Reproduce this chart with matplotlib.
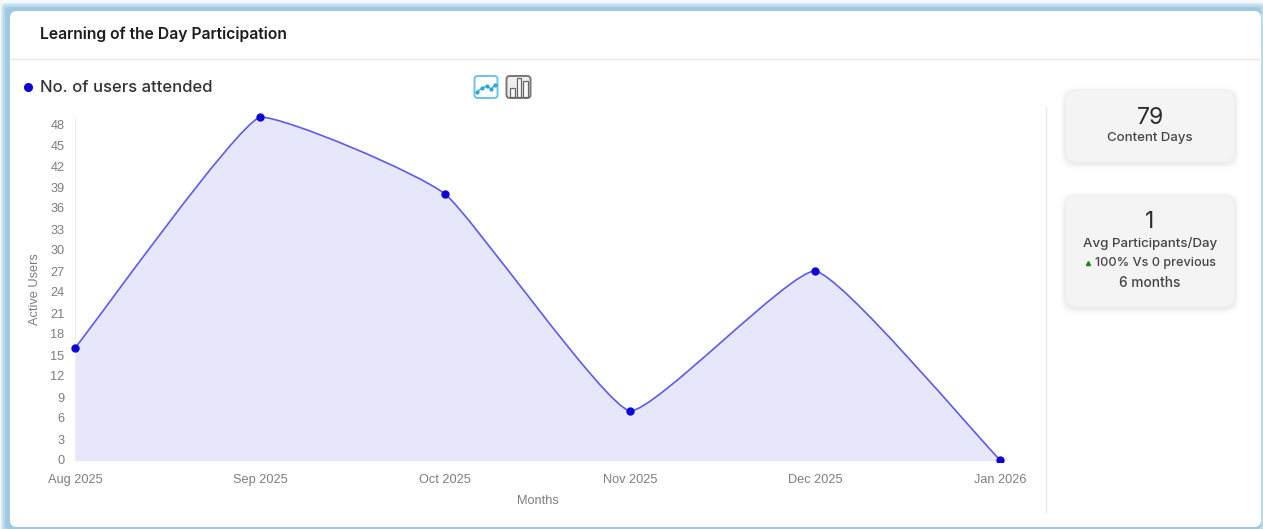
# Learning of the Day Participation card

import matplotlib
matplotlib.use("Agg")
import matplotlib.pyplot as plt
from matplotlib.patches import FancyBboxPatch, Rectangle
from matplotlib.path import Path
from matplotlib.patches import PathPatch

months = ["Aug 2025", "Sep 2025", "Oct 2025", "Nov 2025", "Dec 2025", "Jan 2026"]
users = [16, 49, 38, 7, 27, 0]
y_ticks = list(range(0, 49, 3))

LINE = "#5f5aea"
DOT = "#0c05d6"
FILL = "#e7e7fb"
UI_FONT = ["Inter", "DejaVu Sans"]
TICK_FONT = ["Liberation Sans", "DejaVu Sans"]
TICK_COL = "#7d7d7d"


def smooth_path(xs, ys, smoothing=0.14):
    """Bezier spline through the points, control points kept in the y range of each segment."""
    n = len(xs)
    verts = [(xs[0], ys[0])]
    codes = [Path.MOVETO]
    slopes = []
    for i in range(n):
        a = max(i - 1, 0)
        b = min(i + 1, n - 1)
        slopes.append((ys[b] - ys[a]) / (xs[b] - xs[a]))
    for i in range(n - 1):
        dx = xs[i + 1] - xs[i]
        c0 = ys[i] + slopes[i] * dx * smoothing
        c1 = ys[i + 1] - slopes[i + 1] * dx * smoothing
        lo, hi = min(ys[i], ys[i + 1]), max(ys[i], ys[i + 1])
        c0 = min(max(c0, lo), hi)
        c1 = min(max(c1, lo), hi)
        verts += [(xs[i] + dx * smoothing, c0), (xs[i + 1] - dx * smoothing, c1), (xs[i + 1], ys[i + 1])]
        codes += [Path.CURVE4] * 3
    return verts, codes


def card(bg, x0, y0, x1, y1):
    # soft shadow first
    for grow, alpha in [(5, 0.012), (3.5, 0.015), (2, 0.02), (1, 0.025)]:
        bg.add_patch(FancyBboxPatch((x0 - grow, y0 - grow + 2), x1 - x0 + 2 * grow, y1 - y0 + 2 * grow,
                                    boxstyle="round,pad=0,rounding_size=14", fc="black", ec="none", alpha=alpha))
    bg.add_patch(FancyBboxPatch((x0, y0), x1 - x0, y1 - y0, boxstyle="round,pad=0,rounding_size=12",
                                fc="#f4f4f4", ec="#eeeeee", lw=0.8))


fig = plt.figure(figsize=(12.63, 5.29), dpi=100)
bg = fig.add_axes([0, 0, 1, 1])
bg.set_xlim(0, 1263)
bg.set_ylim(529, 0)
bg.axis("off")

# blue frame round the white panel
bg.add_patch(Rectangle((0, 0), 1263, 529, fc="#f4f8fb", ec="none"))
for grow, col in [(4, "#dcebf4"), (2.5, "#bcd9ea"), (0, "#9fc9e2")]:
    bg.add_patch(FancyBboxPatch((4 - grow + 1, 5 - grow + 2), 1258 + 2 * grow - 2, 524 + 2 * grow - 2,
                                boxstyle="round,pad=0,rounding_size=4", fc=col, ec="none"))
bg.add_patch(FancyBboxPatch((10, 11), 1251, 516, boxstyle="round,pad=0,rounding_size=7", fc="white", ec="none"))

bg.plot([10, 1261], [59, 59], color="#e6e6e6", lw=1)
bg.plot([1046, 1046], [107, 512], color="#e8e8e8", lw=1)

bg.text(39.5, 34, "Learning of the Day Participation", fontsize=11.3, fontweight="semibold",
        family=UI_FONT, color="#1c1c1c", va="center")
bg.plot([28], [87], "o", ms=5.5, color=DOT)
bg.text(40.5, 87.5, "No. of users attended", fontsize=12, fontweight="medium",
        family=UI_FONT, color="#333333", va="center")

# line / bar toggle icons
bg.add_patch(FancyBboxPatch((474.5, 76), 23, 22, boxstyle="round,pad=0,rounding_size=3", fc="white", ec="#6cc3ea", lw=1.4))
bg.plot([477, 482, 487, 491, 495], [92, 88, 86, 89, 85], color="#2aa5dc", lw=0.9, marker="o", ms=2)
bg.add_patch(FancyBboxPatch((506.5, 76), 24, 22, boxstyle="round,pad=0,rounding_size=3", fc="#efefef", ec="#777777", lw=1.4))
for bx, bh in [(510, 9), (516.5, 19), (523, 16)]:
    bg.add_patch(Rectangle((bx, 97 - bh), 4.5, bh, fc="#fafafa", ec="#666666", lw=0.9))

# stat cards
card(bg, 1065, 90, 1235, 162)
bg.text(1150, 118, "79", fontsize=16.5, family=UI_FONT, color="#2b2b2b", ha="center", va="center")
bg.text(1150, 138, "Content Days", fontsize=9.5, fontweight="medium", family=UI_FONT, color="#444444", ha="center", va="center")
card(bg, 1065, 195, 1235, 307)
bg.text(1150, 222, "1", fontsize=16.5, family=UI_FONT, color="#2b2b2b", ha="center", va="center")
bg.text(1150, 243, "Avg Participants/Day", fontsize=9.6, fontweight="medium", family=UI_FONT, color="#444444", ha="center", va="center")
bg.plot([1088], [262.5], "^", ms=3, color="#1f8a1f")
bg.text(1155.5, 263, "100% Vs 0 previous", fontsize=9.1, fontweight="medium", family=UI_FONT, color="#444444", ha="center", va="center")
bg.text(1150, 283, "6 months", fontsize=9.9, fontweight="medium", family=UI_FONT, color="#444444", ha="center", va="center")

# chart area, x 75..1000 px and y 460..117 px
ax = fig.add_axes([75 / 1263, 1 - 460 / 529, 925 / 1263, 343 / 529], facecolor="none")
xs = list(range(len(months)))
ax.set_xlim(0, len(months) - 1)
ax.set_ylim(0, max(users))

verts, codes = smooth_path(xs, users)
fill_verts = verts + [(xs[-1], 0), (xs[0], 0), verts[0]]
fill_codes = codes + [Path.LINETO, Path.LINETO, Path.CLOSEPOLY]
ax.add_patch(PathPatch(Path(fill_verts, fill_codes), fc=FILL, ec="none"))
ax.add_patch(PathPatch(Path(verts, codes), fc="none", ec=LINE, lw=1.2, clip_on=False))
dots, = ax.plot(xs, users, "o", ms=5, color=DOT, zorder=5)
# the last dot is cut off by the baseline in the original
dots.set_clip_path(Rectangle((0, 0), 1263, 461.5, transform=bg.transData))

for side in ["top", "right"]:
    ax.spines[side].set_visible(False)
ax.spines["left"].set_color("#eeeeee")
ax.spines["bottom"].set_color("#e8e8f2")
ax.set_xticks(xs, months)
ax.set_yticks(y_ticks)
ax.tick_params(length=0, labelcolor=TICK_COL, labelsize=9.2)
ax.tick_params(axis="y", pad=7.5)
ax.tick_params(axis="x", pad=10)
for lab in ax.get_xticklabels() + ax.get_yticklabels():
    lab.set_family(TICK_FONT)
bg.text(537.5, 501, "Months", fontsize=9.2, family=TICK_FONT, color=TICK_COL, ha="center", va="center")
bg.text(35, 289, "Active Users", fontsize=9.2, family=TICK_FONT, color=TICK_COL, ha="center", va="center", rotation=90)

fig.savefig("out.png", dpi=100)
